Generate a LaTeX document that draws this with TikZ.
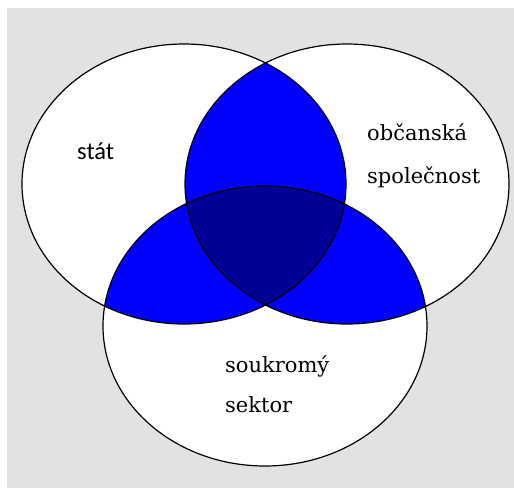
\documentclass[tikz,border=0pt]{standalone}
\usepackage{fontspec}
\setmainfont{DejaVu Serif}
\newfontfamily\statfont{Carlito}
\definecolor{backgray}{RGB}{226,226,226}
\definecolor{lensblue}{RGB}{0,0,255}
\definecolor{coreblue}{RGB}{0,0,150}

\begin{document}
\begin{tikzpicture}[x=1pt,y=-1pt]
  \tikzset{sector/.style={x radius=162pt,y radius=140pt},
           outline/.style={draw=black,line width=1.2pt},
           label text/.style={anchor=base west,align=left,inner sep=0pt,font=\fontsize{21}{43}\selectfont}}

  \useasboundingbox (0,0) rectangle (514,488);
  \fill[backgray] (7,8) rectangle (514,488);

  \coordinate (S) at (184,184);
  \coordinate (O) at (347,184);
  \coordinate (P) at (265,326);

  \fill[white] (S) ellipse [sector];
  \fill[white] (O) ellipse [sector];
  \fill[white] (P) ellipse [sector];

  % pairwise overlaps
  \begin{scope}
    \clip (S) ellipse [sector];
    \fill[lensblue] (O) ellipse [sector];
    \fill[lensblue] (P) ellipse [sector];
  \end{scope}
  \begin{scope}
    \clip (O) ellipse [sector];
    \fill[lensblue] (P) ellipse [sector];
  \end{scope}
  % common part
  \begin{scope}
    \clip (S) ellipse [sector];
    \clip (O) ellipse [sector];
    \fill[coreblue] (P) ellipse [sector];
  \end{scope}

  \draw[outline] (S) ellipse [sector];
  \draw[outline] (O) ellipse [sector];
  \draw[outline] (P) ellipse [sector];

  % base anchor sits on the last line
  \node[label text,font=\statfont\fontsize{24.5}{30}\selectfont] (stat) at (77,159) {stát};
  \node[label text] (obcanska) at (367,183) {občanská\\společnost};
  \node[label text,font=\fontsize{21}{40}\selectfont] (soukromy) at (225,412) {soukromý\\sektor};
\end{tikzpicture}
\end{document}
